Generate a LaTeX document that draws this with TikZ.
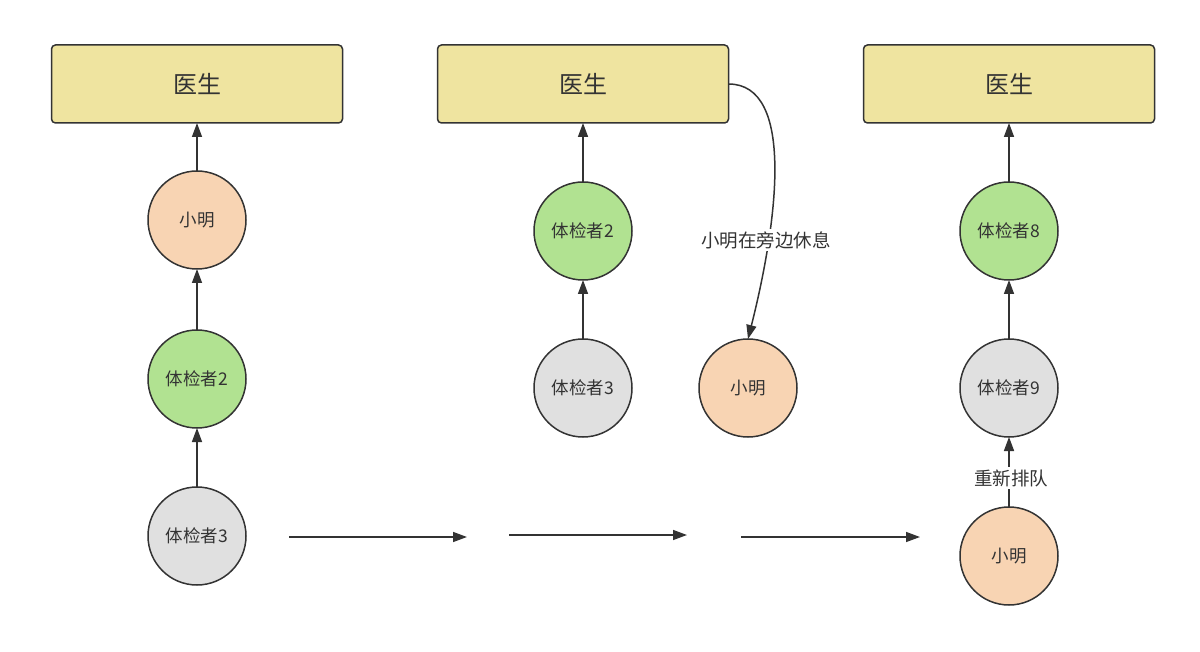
\documentclass[tikz,border=0pt]{standalone}
\usepackage{fontspec}
\setmainfont{Noto Sans CJK SC}
\usetikzlibrary{arrows.meta}
\definecolor{boxfill}{HTML}{EFE4A0}
\definecolor{peach}{HTML}{F8D4B3}
\definecolor{green}{HTML}{B1E291}
\definecolor{grayf}{HTML}{E0E0E0}
\definecolor{ink}{HTML}{333333}
\begin{document}
\begin{tikzpicture}[x=1pt,y=-1pt,
  doctor/.style={draw=ink, line width=1.5pt, fill=boxfill, rounded corners=4pt,
    minimum width=291pt, minimum height=78pt, inner sep=0pt, outer sep=0pt,
    font=\fontsize{24}{28}\selectfont, text=ink},
  person/.style={draw=ink, line width=1.5pt, circle, minimum size=98pt, inner sep=0pt,
    outer sep=0pt, font=\fontsize{17.5}{20}\selectfont, text=ink},
  xm/.style={person, fill=peach},
  gp/.style={person, fill=green},
  gy/.style={person, fill=grayf},
  conn/.style={draw=ink, line width=1.5pt, -{Triangle[length=14pt,width=10pt]}},
  lbl/.style={fill=white, inner sep=2pt, font=\fontsize{18.5}{22}\selectfont, text=ink}
]
\useasboundingbox[fill=white] (0,0) rectangle (1200,652);
% column 1
\node[doctor] (d1) at (197,84) {医生};
\node[xm] (a1) at (197,220) {小明};
\node[gp] (b1) at (197,379) {体检者2};
\node[gy] (c1) at (197,536) {体检者3};
\draw[conn] (a1) -- (d1);
\draw[conn] (b1) -- (a1);
\draw[conn] (c1) -- (b1);
% column 2
\node[doctor] (d2) at (583,84) {医生};
\node[gp] (b2) at (583,231) {体检者2};
\node[gy] (c2) at (583,388) {体检者3};
\node[xm] (a2) at (748,388) {小明};
\draw[conn] (b2) -- (d2);
\draw[conn] (c2) -- (b2);
\draw[conn] (d2.east) .. controls (795,84) and (778,220) .. (a2.north);
\node[lbl] (l1) at (766,240) {小明在旁边休息};
% column 3
\node[doctor] (d3) at (1009,84) {医生};
\node[gp] (b3) at (1009,231) {体检者8};
\node[gy] (c3) at (1009,388) {体检者9};
\node[xm] (a3) at (1009,556) {小明};
\draw[conn] (b3) -- (d3);
\draw[conn] (c3) -- (b3);
\draw[conn] (a3) -- (c3);
\node[lbl] (l2) at (1011,478) {重新排队};
% horizontal arrows
\coordinate (h1s) at (289,537); \coordinate (h1e) at (467,537);
\coordinate (h2s) at (509,535); \coordinate (h2e) at (687,535);
\coordinate (h3s) at (741,537); \coordinate (h3e) at (920,537);
\draw[conn] (h1s) -- (h1e);
\draw[conn] (h2s) -- (h2e);
\draw[conn] (h3s) -- (h3e);
\end{tikzpicture}
\end{document}
